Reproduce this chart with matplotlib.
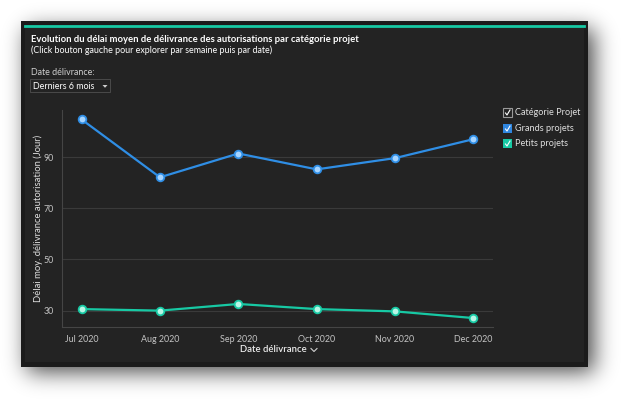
import matplotlib
matplotlib.use("Agg")
import numpy as np
import matplotlib.pyplot as plt
from matplotlib.patches import Rectangle
from matplotlib.lines import Line2D

months = ["Jul 2020", "Aug 2020", "Sep 2020", "Oct 2020", "Nov 2020", "Dec 2020"]
grands = [104.7, 82.1, 91.4, 85.2, 89.6, 97.0]
petits = [30.6, 30.0, 32.6, 30.6, 29.7, 27.1]
yticks = [30, 50, 70, 90]
series_names = ["Grands projets", "Petits projets"]

W, H = 630, 409
plt.rcParams['font.family'] = ['Lato', 'DejaVu Sans']
fig = plt.figure(figsize=(W / 100, H / 100), dpi=100)
fig.patch.set_facecolor('white')

def fx(px):
    return px / W

def fy(py):
    return 1 - py / H

# soft shadow (blurred rectangle)
mask = np.zeros((H, W))
mask[29:372, 27:594] = 1.0
def blur1d(a, sigma, axis):
    r = int(3 * sigma)
    k = np.exp(-0.5 * (np.arange(-r, r + 1) / sigma) ** 2)
    k /= k.sum()
    return np.apply_along_axis(lambda v: np.convolve(v, k, mode='same'), axis, a)
sh = blur1d(blur1d(mask, 11, 0), 11, 1)
rgba = np.zeros((H, W, 4))
rgba[..., 3] = sh * 0.72
bg = fig.add_axes([0, 0, 1, 1])
bg.imshow(rgba, extent=(0, W, H, 0), interpolation='bilinear', aspect='auto')
bg.set_xlim(0, W)
bg.set_ylim(H, 0)
bg.axis('off')
bg.set_zorder(0)

# outer frame
fig.patches.append(Rectangle((fx(21), fy(367)), fx(567), 346 / H, transform=fig.transFigure,
                             facecolor='#1b1b1b', edgecolor='none', zorder=1))
fig.patches.append(Rectangle((fx(25), fy(362)), fx(559), 337 / H, transform=fig.transFigure,
                             facecolor='#232323', edgecolor='none', zorder=2))
# teal top line
fig.add_artist(Line2D([fx(25), fx(584)], [fy(26), fy(26)], color='#17c9a4', lw=2, zorder=3))

# titles
fig.text(fx(31), fy(39.5), "Evolution du délai moyen de délivrance des autorisations par catégorie projet",
         color='white', fontsize=6.8, fontweight='bold', va='center', ha='left', zorder=4)
fig.text(fx(31), fy(50), "(Click bouton gauche pour explorer par semaine puis par date)",
         color='white', fontsize=6.4, va='center', ha='left', zorder=4)
fig.text(fx(31), fy(72.3), "Date délivrance:", color='#cfcfcf', fontsize=6.4, va='center', ha='left', zorder=4)
fig.patches.append(Rectangle((fx(30), fy(92)), fx(80), 13 / H, transform=fig.transFigure,
                             facecolor='#232323', edgecolor='#4a4a4a', lw=0.7, zorder=3))
fig.text(fx(33), fy(86.3), "Derniers 6 mois", color='white', fontsize=6.4, va='center', ha='left', zorder=4)
fig.patches.append(plt.Polygon([(fx(102.5), fy(85)), (fx(107.5), fy(85)), (fx(105), fy(87.8))],
                               closed=True, transform=fig.transFigure, facecolor='#cccccc',
                               edgecolor='none', zorder=4))

# axes
ax = fig.add_axes([fx(62), fy(327), fx(493 - 62), (327 - 110) / H])
ax.patch.set_alpha(0)
ax.set_zorder(5)
x = list(range(len(months)))
ax.plot(x, grands, color='#2f8ee5', lw=1.6, marker='o', ms=5.5, mfc='#a6d4ff', mec='#2f8ee5', mew=1.3, zorder=4)
ax.plot(x, petits, color='#17c9a4', lw=1.6, marker='o', ms=5.5, mfc='#b8f6e6', mec='#17c9a4', mew=1.3, zorder=4)
ax.set_xlim(-0.25, 5.25)
ax.set_ylim(23.6, 108.4)
ax.set_yticks(yticks)
ax.set_xticks(x)
ax.set_xticklabels(months)
ax.grid(axis='y', color='#3a3a3a', lw=0.8)
ax.tick_params(axis='both', length=0, colors='#c4c4c4', labelsize=6.4)
ax.tick_params(axis='x', pad=6)
ax.tick_params(axis='y', pad=6)
for s in ['top', 'right']:
    ax.spines[s].set_visible(False)
for s in ['left', 'bottom']:
    ax.spines[s].set_color('#454545')
    ax.spines[s].set_linewidth(0.8)
ax.set_ylabel("Délai moy. délivrance autorisation (Jour)", color='#e0e0e0', fontsize=6.8, labelpad=0)

fig.text(fx(307), fy(350), "Date délivrance", color='#eeeeee', fontsize=6.8, fontweight='semibold',
         va='center', ha='right', zorder=6)
fig.add_artist(Line2D([fx(311), fx(314), fx(317)], [fy(348.5), fy(351.5), fy(348.5)],
                      color='#d0d0d0', lw=0.8, zorder=6))

# legend
legend_items = [("Catégorie Projet", None), (series_names[0], '#2f86e0'), (series_names[1], '#17c9a4')]
ys = [112.5, 128.5, 143.5]
for (lab, col), yy in zip(legend_items, ys):
    if col is None:
        fig.patches.append(Rectangle((fx(503), fy(yy + 4.5)), fx(9), 9 / H, transform=fig.transFigure,
                                     facecolor='none', edgecolor='#9a9a9a', lw=0.8, zorder=6))
    else:
        fig.patches.append(Rectangle((fx(503), fy(yy + 4.5)), fx(9), 9 / H, transform=fig.transFigure,
                                     facecolor=col, edgecolor='none', zorder=6))
    fig.add_artist(Line2D([fx(505.5), fx(507), fx(510)], [fy(yy + 0.5), fy(yy + 2.5), fy(yy - 2.5)],
                          color='white', lw=0.8, zorder=7))
    fig.text(fx(515), fy(yy), lab, color='#e0e0e0', fontsize=6.6, va='center', ha='left', zorder=6)

fig.savefig("out.png", dpi=100, facecolor='white')
